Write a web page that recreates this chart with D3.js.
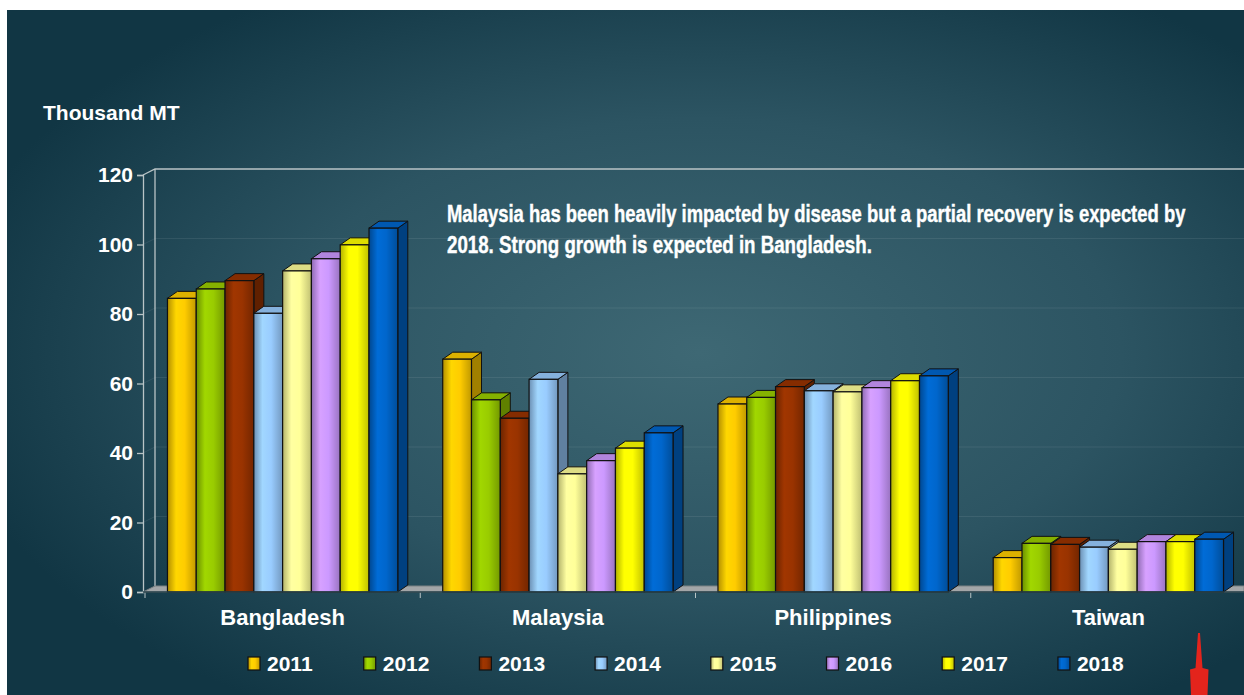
<!DOCTYPE html>
<html>
<head>
<meta charset="utf-8">
<script src="https://cdn.jsdelivr.net/npm/d3@7"></script>
<style>
  body { margin: 0; background: #fff; }
  svg { display: block; }
  text { font-family: "Liberation Sans", Arial, sans-serif; font-weight: bold; fill: #fff; }
</style>
</head>
<body>
<div id="chart"></div>
<script>
let countries = ["Bangladesh", "Malaysia", "Philippines", "Taiwan"]
let years = ["2011", "2012", "2013", "2014", "2015", "2016", "2017", "2018"]
let colors = ["#FFCC00", "#99CC00", "#993300", "#99CCFF", "#FFFF99", "#CC99FF", "#FFFF00", "#0066CC"]

let bangladesh = [84.5, 87.2, 89.6, 80.2, 92.4, 95.9, 99.9, 104.7]
let malaysia = [67.0, 55.3, 50.0, 61.2, 34.0, 37.8, 41.4, 45.8]
let philippines = [54.1, 56.0, 59.1, 57.9, 57.6, 58.8, 60.8, 62.2]
let taiwan = [9.9, 14.0, 13.7, 12.9, 12.3, 14.5, 14.5, 15.2]

let yTicks = [0, 20, 40, 60, 80, 100, 120]
let note = ["Malaysia has been heavily impacted by disease but a partial recovery is expected by",
            "2018.  Strong growth is expected in Bangladesh."]

let values = [bangladesh, malaysia, philippines, taiwan]

let width = 1244, height = 695
let depth = {x: 10, y: 7}
let wall = {x: 12, y: 6}

let svg = d3.select('#chart').append('svg')
    .attr("width", width)
    .attr("height", height)

let defs = svg.append("defs")

let bg = defs.append("radialGradient").attr("id", "bg")
    .attr("cx", "0.56").attr("cy", "0.5").attr("r", "0.62")
bg.append("stop").attr("offset", "0").attr("stop-color", "#3e6874")
bg.append("stop").attr("offset", "0.55").attr("stop-color", "#2c5462")
bg.append("stop").attr("offset", "1").attr("stop-color", "#113644")

colors.forEach((c, i) => {
  let base = d3.color(c)
  let g = defs.append("linearGradient").attr("id", "bar" + i)
  g.append("stop").attr("offset", "0").attr("stop-color", base.darker(1))
  g.append("stop").attr("offset", "0.3").attr("stop-color", base.brighter(0.15))
  g.append("stop").attr("offset", "0.6").attr("stop-color", base)
  g.append("stop").attr("offset", "1").attr("stop-color", base.darker(0.8))
})

svg.append("rect")
    .attr("x", 7).attr("y", 10)
    .attr("width", width - 7).attr("height", height - 10)
    .attr("fill", "url(#bg)")

let x = d3.scaleBand().domain(countries).range([145, 1246])
let x1 = d3.scaleBand().domain(years).range([0, x.bandwidth()]).paddingOuter(0.78)
let y = d3.scaleLinear().domain([0, 120]).range([592, 175])

let x0 = 143

// back wall grid
svg.append("g").selectAll("path")
  .data(yTicks.slice(1, -1))
  .join("path")
    .attr("d", d => `M${x0},${y(d)}L${x0 + wall.x},${y(d) - wall.y}H${width}`)
    .attr("fill", "none")
    .attr("stroke", "rgba(255,255,255,0.08)")

svg.append("path")
    .attr("d", `M${x0},${y(120)}L${x0 + wall.x},${y(120) - wall.y}H${width}M${x0 + wall.x},${y(120) - wall.y}V${y(0) - wall.y}`)
    .attr("fill", "none")
    .attr("stroke", "#b9c4c6")
    .attr("stroke-width", 1.3)

// floor
svg.append("path")
    .attr("d", `M${x0},${y(0)}L${x0 + wall.x},${y(0) - wall.y}H${width}V${y(0)}Z`)
    .attr("fill", "#a3a6a8")
    .attr("stroke", "#7d8284")

// bars
let groups = svg.append("g").selectAll("g")
  .data(countries)
  .join("g")
    .attr("transform", d => `translate(${x(d)},0)`)

groups.each(function(country, ci) {
  let g = d3.select(this)
  values[ci].forEach((v, i) => {
    let bx = x1(years[i]), bw = x1.bandwidth()
    let top = y(v), bottom = y(0)
    let base = d3.color(colors[i])
    g.append("path")
        .attr("d", `M${bx + bw},${top}L${bx + bw + depth.x},${top - depth.y}V${bottom - depth.y}L${bx + bw},${bottom}Z`)
        .attr("fill", base.darker(1.3))
        .attr("stroke", "#111").attr("stroke-width", 1)
    g.append("path")
        .attr("d", `M${bx},${top}L${bx + depth.x},${top - depth.y}H${bx + bw + depth.x}L${bx + bw},${top}Z`)
        .attr("fill", base.darker(0.4))
        .attr("stroke", "#111").attr("stroke-width", 1)
    g.append("rect")
        .attr("x", bx).attr("y", top)
        .attr("width", bw).attr("height", bottom - top)
        .attr("fill", `url(#bar${i})`)
        .attr("stroke", "#111").attr("stroke-width", 1.2)
  })
})

// y axis
let yAxis = svg.append("g")
    .attr("transform", `translate(${x0},0)`)
    .call(d3.axisLeft(y).tickValues(yTicks).tickSize(6).tickPadding(4))
yAxis.select(".domain").attr("stroke", "#b9c4c6").attr("stroke-width", 1.3)
yAxis.selectAll(".tick line").attr("stroke", "#b9c4c6").attr("stroke-width", 1.3)
yAxis.selectAll(".tick text")
    .attr("fill", "#fff")
    .style("font-size", "21px")
    .style("font-family", '"Liberation Sans", Arial, sans-serif')
    .style("font-weight", "bold")

// x axis
let xAxis = svg.append("g")
    .attr("transform", `translate(0,${y(0)})`)
svg.append("line")
    .attr("x1", x0).attr("x2", width)
    .attr("y1", y(0)).attr("y2", y(0))
    .attr("stroke", "#26404a").attr("stroke-width", 1.5)
xAxis.selectAll("line")
  .data(countries)
  .join("line")
    .attr("x1", d => x(d)).attr("x2", d => x(d))
    .attr("y1", 0).attr("y2", 6)
    .attr("stroke", "#b9c4c6")
xAxis.selectAll("text")
  .data(countries)
  .join("text")
    .attr("x", d => x(d) + x.bandwidth() / 2)
    .attr("y", 33)
    .attr("text-anchor", "middle")
    .style("font-size", "22px")
    .text(d => d)

svg.append("text")
    .attr("x", 43).attr("y", 120)
    .style("font-size", "21px")
    .text("Thousand MT")

// note, squeezed horizontally to the reference widths
let noteWidths = [739, 425]
svg.append("g").selectAll("text")
  .data(note)
  .join("text")
    .style("font-size", "23px")
    .style("stroke", "#fff").style("stroke-width", 0.4)
    .text(d => d)
    .attr("transform", function(d, i) {
      let len = this.getComputedTextLength()
      return `translate(447,${222 + i * 31}) scale(${noteWidths[i] / len},1)`
    })

// legend
let lx = d3.scaleBand().domain(years).range([248, 248 + 8 * 115.7])
let legend = svg.append("g").selectAll("g")
  .data(years)
  .join("g")
    .attr("transform", d => `translate(${lx(d)},657)`)
legend.append("rect")
    .attr("width", 12).attr("height", 13)
    .attr("fill", (d, i) => `url(#bar${i})`)
    .attr("stroke", "#111").attr("stroke-width", 1.2)
legend.append("text")
    .attr("x", 19).attr("y", 14)
    .style("font-size", "21px")
    .text(d => d)

// red arrow
svg.append("path")
    .attr("d", "M1198,633H1200L1202.5,668L1208.5,669.5L1207.5,695H1191L1190,669.5L1195.5,668Z")
    .attr("fill", "#e3241c")
</script>
</body>
</html>
